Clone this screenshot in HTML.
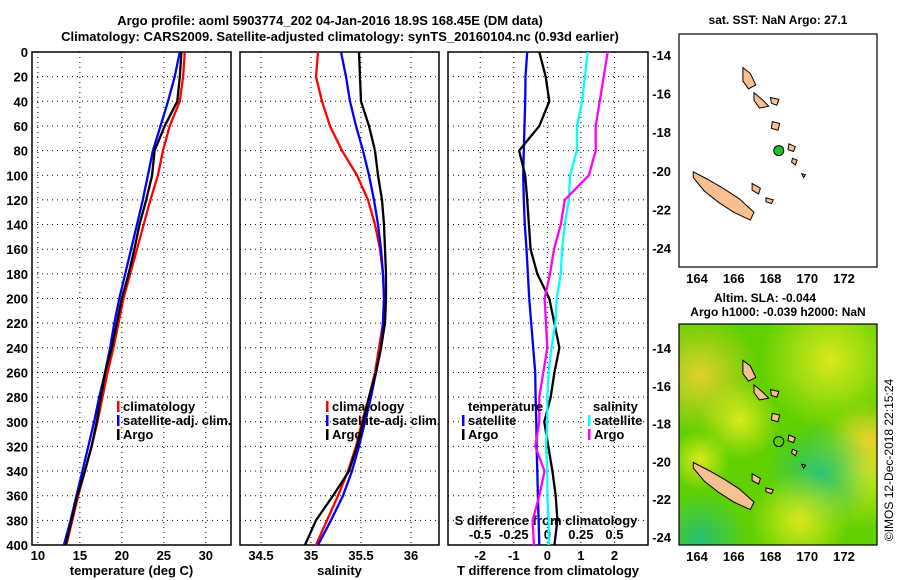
<!DOCTYPE html>
<html><head><meta charset="utf-8"><style>
body{margin:0;background:#fff;}
svg{display:block;font-family:"Liberation Sans",sans-serif;font-weight:bold;}
</style></head><body>
<svg id="c" width="900" height="580" viewBox="0 0 900 580">
<defs>
<radialGradient id="g1" cx="0.5" cy="0.5" r="0.5"><stop offset="0" stop-color="#f0d030"/><stop offset="1" stop-color="#f0d030" stop-opacity="0"/></radialGradient>
<radialGradient id="g2" cx="0.5" cy="0.5" r="0.5"><stop offset="0" stop-color="#e8ec20"/><stop offset="1" stop-color="#e8ec20" stop-opacity="0"/></radialGradient>
<radialGradient id="g3" cx="0.5" cy="0.5" r="0.5"><stop offset="0" stop-color="#20c080"/><stop offset="1" stop-color="#20c080" stop-opacity="0"/></radialGradient>
<clipPath id="mclip"><rect x="679" y="324" width="198" height="221"/></clipPath>
<clipPath id="mclip1"><rect x="679" y="34" width="198" height="233"/></clipPath>
</defs>
<text x="330" y="25" font-size="13" text-anchor="middle">Argo profile: aoml 5903774_202 04-Jan-2016 18.9S 168.45E (DM data)</text>
<text x="340" y="41" font-size="13" text-anchor="middle">Climatology: CARS2009. Satellite-adjusted climatology: synTS_20160104.nc (0.93d earlier)</text>
<text x="778" y="24" font-size="12" text-anchor="middle">sat. SST: NaN Argo: 27.1</text>
<text x="765" y="302" font-size="12" text-anchor="middle">Altim. SLA: -0.044</text>
<text x="778" y="316" font-size="12" text-anchor="middle">Argo h1000: -0.039 h2000: NaN</text>
<text transform="translate(893,460) rotate(-90)" font-size="12" font-weight="normal" text-anchor="middle">©IMOS 12-Dec-2018 22:15:24</text>
<g id="p"></g>
</svg>
<script>
const depths=[0,20,40,60,80,100,120,140,160,180,200,220,240,260,280,300,320,340,360,380,400];
const tempArgo=[27.1,26.9,26.6,25.1,23.9,23.6,22.9,22.1,21.5,20.8,20.0,19.4,18.8,18.0,17.5,17.0,16.4,15.6,14.7,14.0,13.3];
const tempSat=[26.9,26.3,25.5,24.6,23.7,23.1,22.5,21.8,21.1,20.4,19.7,19.1,18.6,18.0,17.3,16.7,16.0,15.3,14.6,13.9,13.1];
const tempClim=[27.5,27.3,26.9,25.7,24.9,24.3,23.4,22.6,21.8,21.0,20.2,19.6,19.0,18.3,17.7,17.1,16.4,15.6,14.8,14.1,13.4];
const salArgo=[35.48,35.49,35.50,35.58,35.64,35.67,35.71,35.73,35.74,35.75,35.75,35.74,35.70,35.65,35.58,35.52,35.46,35.38,35.22,35.05,34.94];
const salSat=[35.30,35.35,35.39,35.45,35.52,35.58,35.63,35.67,35.70,35.72,35.73,35.72,35.70,35.65,35.60,35.54,35.48,35.41,35.32,35.20,35.07];
const salClim=[35.07,35.05,35.11,35.19,35.31,35.46,35.57,35.64,35.69,35.72,35.73,35.72,35.68,35.64,35.58,35.51,35.45,35.37,35.27,35.16,35.05];
const tdiffSat=[-0.60,-0.65,-0.66,-0.68,-0.70,-0.72,-0.70,-0.67,-0.62,-0.58,-0.54,-0.48,-0.42,-0.36,-0.35,-0.33,-0.32,-0.30,-0.28,-0.26,-0.24];
const tdiffArgo=[-0.24,-0.05,0.06,-0.24,-0.84,-0.66,-0.60,-0.55,-0.50,-0.30,0.06,0.21,0.36,0.21,0.10,-0.09,0.03,0.15,0.25,0.30,0.21];
const sdiffSat=[0.30,0.28,0.26,0.22,0.22,0.17,0.16,0.13,0.11,0.10,0.07,0.06,0.03,0.01,0.00,0.00,-0.01,0.00,0.00,0.01,0.01];
const sdiffArgo=[0.45,0.42,0.39,0.36,0.36,0.31,0.13,0.10,0.05,0.02,-0.02,-0.01,0.00,-0.03,-0.06,-0.06,-0.09,-0.02,-0.06,-0.11,-0.10];
const tTicks=[10,15,20,25,30], sTicks=[34.5,35,35.5,36], dTicks=[-2,-1,0,1,2], sdTicks=[-0.5,-0.25,0,0.25,0.5];
const yTicks=[0,20,40,60,80,100,120,140,160,180,200,220,240,260,280,300,320,340,360,380,400];
const lonTicks=[164,166,168,170,172], latTicks=[-14,-16,-18,-20,-22,-24];
const argoLon=168.45, argoLat=-18.9;

const NS='http://www.w3.org/2000/svg', G=document.getElementById('p');
function mk(t,a,par){const e=document.createElementNS(NS,t);for(const k in a)e.setAttribute(k,a[k]);(par||G).appendChild(e);return e;}
const Y0=52,Y1=545; const yS=d=>Y0+(d/400)*(Y1-Y0);
function panel(x0,x1,lo,hi,ticks,name,xlabel){
  const xS=v=>x0+(v-lo)/(hi-lo)*(x1-x0);
  for(const t of ticks){const gl=mk('line',{x1:xS(t),x2:xS(t),y1:Y0,y2:Y1,stroke:'#000','stroke-dasharray':'1 4','stroke-width':1});
    }
  for(const d of yTicks){if(d===0||d===400)continue;const gl=mk('line',{x1:x0,x2:x1,y1:yS(d),y2:yS(d),stroke:'#000','stroke-dasharray':'1 4','stroke-width':1});
    }
  const b=mk('rect',{x:x0,y:Y0,width:x1-x0,height:Y1-Y0,fill:'none',stroke:'#000','stroke-width':1.5});
  
  if(xlabel){const l=mk('text',{x:(x0+x1)/2,y:575,'font-size':13,'text-anchor':'middle'});l.textContent=xlabel;
    }
  return xS;
}
function line(xS,vals,col,name){
  const pts=vals.map((v,i)=>xS(v).toFixed(1)+','+yS(depths[i]).toFixed(1)).join(' ');
  const e=mk('polyline',{points:pts,fill:'none',stroke:col,'stroke-width':2.3,'stroke-linejoin':'round'});
  
}
function xtl(xS,ticks,y,name,fmt){for(const t of ticks){const e=mk('text',{x:xS(t),y:y,'font-size':13,'text-anchor':'middle'});e.textContent=fmt?fmt(t):t;
  }}
function legend(x,y,items,name){items.forEach((it,i)=>{
  const m=mk('rect',{x:x,y:y+i*14-10,width:2.5,height:11,fill:it[1]});
  const t=mk('text',{x:x+6,y:y+i*14,'font-size':13});t.textContent=it[0];});}

const x1S=panel(32,231,9.3,33,tTicks,'temperature-panel','temperature (deg C)');
xtl(x1S,tTicks,560,'temperature-tick-label');
for(const d of yTicks){const e=mk('text',{x:28,y:yS(d)+5,'font-size':13,'text-anchor':'end'});e.textContent=d;
  }
line(x1S,tempClim,'#f00','temp-climatology-line');line(x1S,tempSat,'#00f','temp-satellite-line');line(x1S,tempArgo,'#000','temp-argo-line');
legend(117,411,[['climatology','#f00'],['satellite-adj. clim.','#00f'],['Argo','#000']],'temp-legend');
const x2S=panel(240,439,34.29,36.28,sTicks,'salinity-panel','salinity');
xtl(x2S,sTicks,560,'salinity-tick-label');
line(x2S,salClim,'#f00','sal-climatology-line');line(x2S,salSat,'#00f','sal-satellite-line');line(x2S,salArgo,'#000','sal-argo-line');
legend(326,411,[['climatology','#f00'],['satellite-adj. clim.','#00f'],['Argo','#000']],'sal-legend');
const x3S=panel(448,648,-2.96,3.0,dTicks,'difference-panel','T difference from climatology');
xtl(x3S,dTicks,560,'tdiff-tick-label');
const sdS=v=>x3S(v*4);
xtl(sdS,sdTicks,539,'sdiff-tick-label',t=>t===0?'0':String(t));
const st=mk('text',{x:546,y:525,'font-size':13,'text-anchor':'middle'});st.textContent='S difference from climatology';

line(x3S,tdiffSat,'#00f','tdiff-satellite-line');line(x3S,tdiffArgo,'#000','tdiff-argo-line');
line(sdS,sdiffSat,'#0ff','sdiff-satellite-line');line(sdS,sdiffArgo,'#f0f','sdiff-argo-line');
const th=mk('text',{x:468,y:411,'font-size':13});th.textContent='temperature';
const sh=mk('text',{x:593,y:411,'font-size':13});sh.textContent='salinity';
legend(462,425,[['satellite','#00f'],['Argo','#000']],'tdiff-legend');
legend(588,425,[['satellite','#0ff'],['Argo','#f0f']],'sdiff-legend');

const islands=[
 [[163.8,-20.0],[164.6,-20.4],[165.5,-20.9],[166.3,-21.4],[167.1,-22.1],[166.9,-22.5],[166.0,-22.1],[165.2,-21.6],[164.4,-21.0],[163.8,-20.3]],
 [[166.5,-14.6],[166.9,-14.9],[167.2,-15.5],[166.8,-15.7],[166.5,-15.3]],
 [[167.1,-15.9],[167.6,-16.3],[167.9,-16.6],[167.4,-16.7],[167.1,-16.3]],
 [[168.1,-17.4],[168.5,-17.5],[168.4,-17.85],[168.05,-17.75]],
 [[169.0,-18.55],[169.35,-18.7],[169.25,-18.95],[168.95,-18.85]],
 [[169.2,-19.3],[169.45,-19.4],[169.35,-19.65],[169.15,-19.5]],
 [[167.0,-20.6],[167.45,-20.85],[167.35,-21.15],[167.0,-20.95]],
 [[167.75,-21.35],[168.15,-21.45],[168.05,-21.65],[167.75,-21.55]],
 [[168.0,-16.15],[168.45,-16.25],[168.35,-16.55],[168.05,-16.45]],
 [[169.7,-20.1],[169.9,-20.15],[169.8,-20.3]]
];
function map(x0,x1,y0,y1,latA,latB,yA,yB,name,bg,clip){
  const lon=v=>697+(v-164)*(844-697)/8, lat=v=>yA+(v-latA)*(yB-yA)/(latB-latA);
  const g=mk('g',{'clip-path':'url(#'+clip+')'});
  if(bg){const r=mk('rect',{x:x0,y:y0,width:x1-x0,height:y1-y0,fill:'#60d000'},g);
    [['g1',700,375,60],['g2',830,360,70],['g2',860,470,60],['g1',870,440,40],['g2',740,420,40],['g3',820,475,55],['g3',700,540,50],['g2',800,520,50],['g2',700,460,30]].forEach(b=>{
      const c=mk('ellipse',{cx:b[1],cy:b[2],rx:b[3],ry:b[3],fill:'url(#'+b[0]+')',opacity:0.9},g);});}
  islands.forEach(p=>{const e=mk('polygon',{points:p.map(q=>lon(q[0]).toFixed(1)+','+lat(q[1]).toFixed(1)).join(' '),fill:'#f8c090',stroke:'#000','stroke-width':1},g);
    });
  const m=mk('circle',{cx:lon(argoLon),cy:lat(argoLat),r:5,fill:bg?'none':'#20c020',stroke:'#000','stroke-width':1},g);
  
  const f=mk('rect',{x:x0,y:y0,width:x1-x0,height:y1-y0,fill:'none',stroke:'#000','stroke-width':1.2});
  for(const v of lonTicks){const e=mk('text',{x:lon(v),y:y1+16,'font-size':13,'text-anchor':'middle'});e.textContent=v;}
  for(const v of latTicks){const e=mk('text',{x:x0-8,y:lat(v)+4,'font-size':13,'text-anchor':'end'});e.textContent=v;}
}
map(679,877,34,267,-14,-24,56,249,'sst-map',false,'mclip1');
map(679,877,324,545,-14,-24,349,538,'sla-map',true,'mclip');
</script>
</body></html>
